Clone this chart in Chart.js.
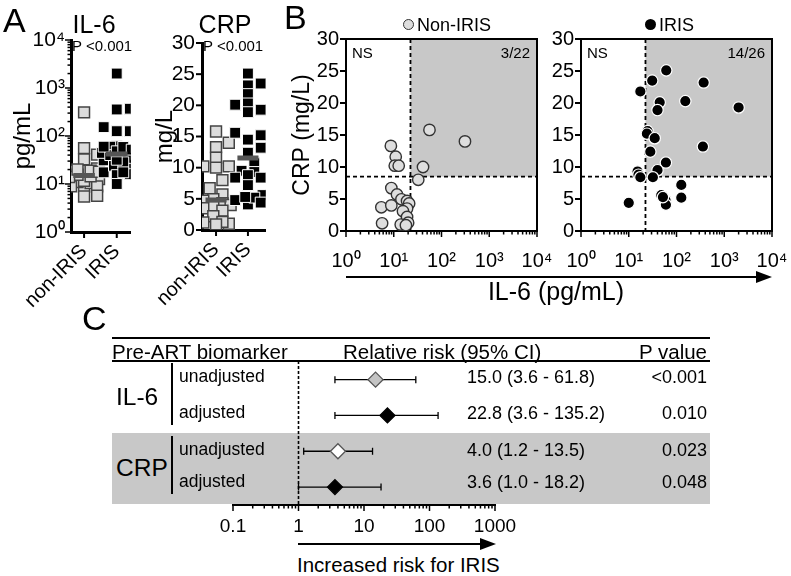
<!DOCTYPE html>
<html>
<head>
<meta charset="utf-8">
<script src="https://cdn.jsdelivr.net/npm/chart.js@4.4.1/dist/chart.umd.min.js"></script>
<style>
body { margin: 0; width: 791px; height: 576px; position: relative; background: #fff; overflow: hidden;
       font-family: 'Liberation Sans', Arial, Helvetica, sans-serif; color: #000; }
canvas { position: absolute; z-index: 2; }
.t { position: absolute; white-space: nowrap; line-height: 1; z-index: 3; }
.box { position: absolute; z-index: 1; }
</style>
</head>
<body>
<canvas id="aIL6" width="140" height="310" style="left:0;top:0"></canvas>
<canvas id="aCRP" width="157" height="310" style="left:118px;top:0"></canvas>
<canvas id="bNon" width="290" height="290" style="left:276px;top:0"></canvas>
<canvas id="bIris" width="251" height="290" style="left:540px;top:0"></canvas>
<canvas id="cForest" width="320" height="200" style="left:200px;top:340px"></canvas>
<script>
// ---- data ----
const groups = ['non-IRIS', 'IRIS'];
// one value per patient; same patients in panel A and B
const nonIrisIL6 = [56, 8.7, 11, 10.5, 12.7, 41, 32.6, 8.9, 11.7, 14.5, 19, 21, 5.5, 8.9, 19, 15.6, 19, 5.7, 14, 20, 18, 310];
const nonIrisCRP = [15.8, 13.3, 11.6, 10.2, 10.2, 10.0, 8.0, 6.7, 5.7, 4.95, 4.7, 4.3, 3.7, 4.0, 3.5, 3.1, 2.2, 1.2, 1.0, 1.3, 0.9, 14.0];
const irisIL6 = [61, 31, 370, 17.5, 44.5, 153, 2000, 40, 24.8, 24, 35, 357, 28.3, 60, 40, 15.3, 16, 17.5, 32, 126, 48, 59, 60, 126, 10, 52];
const irisCRP = [25.1, 23.5, 23.2, 21.8, 20.1, 20.3, 19.3, 18.9, 15.6, 15.2, 14.5, 13.2, 12.4, 10.7, 9.5, 9.3, 8.8, 8.4, 8.4, 7.2, 5.6, 4.8, 4.1, 5.2, 4.4, 5.3];
const il6Cutoff = 22.4;   // pg/mL
const crpCutoff = 8.5;    // mg/L
const pA = ['P <0.001', 'P <0.001'];

// panel C
const rrBiomarker = ['IL-6', 'IL-6', 'CRP', 'CRP'];
const rrModel = ['unadjusted', 'adjusted', 'unadjusted', 'adjusted'];
const rrEst = [15.0, 22.8, 4.0, 3.6];
const rrLo = [3.6, 3.6, 1.2, 1.0];
const rrHi = [61.8, 135.2, 13.5, 18.2];
const rrP = ['<0.001', '0.010', '0.023', '0.048'];
const rrTicks = [0.1, 1, 10, 100, 1000];

// ---- styles ----
const FONT = "'Liberation Sans', Arial, Helvetica, sans-serif";
Chart.defaults.font.family = FONT;
Chart.defaults.color = '#000';
Chart.defaults.animation = false;
Chart.defaults.plugins.legend.display = false;
Chart.defaults.plugins.tooltip.enabled = false;
const rrFill = ['#c4c4c4', '#000', '#fff', '#000'];
const rrEdge = ['#555', '#000', '#555', '#000'];

const sup = { '0': '\u2070', '1': '\u00b9', '2': '\u00b2', '3': '\u00b3', '4': '\u2074' };
const isPow10 = v => Math.abs(Math.log10(v) - Math.round(Math.log10(v))) < 1e-6;
const pow10Label = v => isPow10(v) ? '10' + sup[String(Math.round(Math.log10(v)))] : '';
function logTicks(lo, hi) {
  const out = [];
  for (let e = lo; e < hi; e++) for (let m = 1; m < 10; m++) out.push({ value: m * Math.pow(10, e) });
  out.push({ value: Math.pow(10, hi) });
  return out;
}
const median = a => { const s = [...a].sort((x, y) => x - y); const n = s.length; return n % 2 ? s[(n - 1) / 2] : (s[n / 2 - 1] + s[n / 2]) / 2; };

// spread points sideways so overlapping squares stay visible
function swarm(values, toPx) {
  const order = values.map((v, i) => i).sort((a, b) => values[a] - values[b]);
  const placed = [], offs = [];
  const cand = [0, 7, -7, 14, -14, 3, -3, 10, -10, 16, -16];
  order.forEach(i => {
    const py = toPx(values[i]);
    let best = 0, bestD = -1;
    for (const c of cand) {
      let d = Infinity;
      placed.forEach(p => { d = Math.min(d, Math.max(Math.abs(p.x - c), Math.abs(p.y - py))); });
      if (d >= 8.5) { best = c; break; }
      if (d > bestD) { bestD = d; best = c; }
    }
    placed.push({ x: best, y: py });
    offs[i] = best;
  });
  return offs;
}

// tick marks drawn by hand so minor log ticks can be shorter
const tickMarks = {
  id: 'tickMarks',
  afterDraw(chart) {
    const ctx = chart.ctx;
    Object.values(chart.scales).forEach(s => {
      const o = s.options.marks;
      if (!o || !s.options.display) return;
      ctx.save();
      ctx.strokeStyle = '#000';
      ctx.lineWidth = o.width;
      s.ticks.forEach(t => {
        const len = (!o.log || isPow10(t.value)) ? o.major : o.minor;
        const p = s.getPixelForValue(t.value);
        ctx.beginPath();
        if (s.axis === 'y') { ctx.moveTo(s.right, p); ctx.lineTo(s.right - len, p); }
        else { ctx.moveTo(p, s.top); ctx.lineTo(p, s.top + len); }
        ctx.stroke();
      });
      ctx.restore();
    });
  }
};

// shaded quadrant, cut-off lines, frame and labels for panel B
const quadrant = {
  id: 'quadrant',
  beforeDatasetsDraw(chart, args, opts) {
    const { ctx, chartArea: a, scales: { x, y } } = chart;
    const px = x.getPixelForValue(opts.x), py = y.getPixelForValue(opts.y);
    ctx.save();
    ctx.fillStyle = '#c8c8c8';
    ctx.fillRect(px, a.top, a.right - px, py - a.top);
    ctx.strokeStyle = '#000';
    ctx.lineWidth = 1.8;
    ctx.setLineDash([4, 3]);
    ctx.beginPath();
    ctx.moveTo(px, a.top); ctx.lineTo(px, a.bottom);
    ctx.moveTo(a.left, py); ctx.lineTo(a.right, py);
    ctx.stroke();
    ctx.setLineDash([]);
    ctx.lineWidth = 2;
    ctx.strokeRect(a.left, a.top, a.right - a.left, a.bottom - a.top);
    ctx.fillStyle = '#000';
    ctx.font = '15px ' + FONT;
    ctx.textBaseline = 'middle';
    ctx.textAlign = 'left';
    ctx.fillText('NS', a.left + 6, a.top + 15);
    ctx.textAlign = 'right';
    ctx.fillText(opts.count, a.right - 7, a.top + 15);
    ctx.restore();
  }
};

// dashed no-effect line for panel C
const refLine = {
  id: 'refLine',
  beforeDatasetsDraw(chart, args, opts) {
    const { ctx, chartArea: a, scales: { x } } = chart;
    const px = x.getPixelForValue(opts.value);
    ctx.save();
    ctx.strokeStyle = '#000';
    ctx.lineWidth = 1.6;
    ctx.setLineDash([3, 2]);
    ctx.beginPath();
    ctx.moveTo(px, a.top); ctx.lineTo(px, a.bottom);
    ctx.stroke();
    ctx.restore();
  }
};

const fixW = w => s => { s.width = w; s.paddingTop = 0; s.paddingBottom = 0; };
const fixH = h => s => { s.height = h; s.paddingLeft = 0; s.paddingRight = 0; };

// ---- panel A ----
function columnChart(id, cfg) {
  const pts = (vals, cat) => {
    const offs = swarm(vals, cfg.toPx);
    return vals.map((v, i) => ({ x: cat + offs[i] / 35, y: v }));
  };
  const bar = (vals, cat) => ({
    type: 'line', data: [{ x: cat - 0.33, y: median(vals) }, { x: cat + 0.33, y: median(vals) }],
    borderColor: '#555', borderWidth: 5, pointRadius: 0, order: 0
  });
  return new Chart(document.getElementById(id), {
    type: 'scatter',
    data: {
      datasets: [
        bar(cfg.non, 1), bar(cfg.iris, 2),
        { data: pts(cfg.iris, 2), pointStyle: 'rect', pointRadius: 7.7, backgroundColor: '#000', borderColor: '#fff', borderWidth: 1, order: 1 },
        { data: pts(cfg.non, 1), pointStyle: 'rect', pointRadius: 7.7, backgroundColor: '#dcdcdc', borderColor: '#444', borderWidth: 1.5, order: 2 }
      ]
    },
    options: {
      responsive: false,
      layout: { padding: cfg.pad },
      scales: {
        x: {
          type: 'linear', min: cfg.xmin, max: cfg.xmax,
          afterBuildTicks: s => { s.ticks = [{ value: 1 }, { value: 2 }]; },
          afterFit: fixH(cfg.xh),
          ticks: { callback: v => groups[v - 1], minRotation: 45, maxRotation: 45, font: { size: 20 }, padding: 2 },
          grid: { display: false, tickLength: 6 },
          border: { color: '#000', width: 3 },
          marks: { width: 2, major: 6 }
        },
        y: cfg.y
      }
    },
    plugins: [tickMarks]
  });
}

columnChart('aIL6', {
  non: nonIrisIL6, iris: irisIL6, toPx: v => Math.log10(v) * 48,
  xmin: 0.6, xmax: 2.43, xh: 78, pad: { top: 40, right: 5, left: 0, bottom: 0 },
  y: {
    type: 'logarithmic', min: 1, max: 10000,
    afterBuildTicks: s => { s.ticks = logTicks(0, 4); },
    afterFit: fixW(71),
    ticks: { callback: pow10Label, autoSkip: false, font: { size: 21 }, padding: 1 },
    grid: { display: false, tickLength: 5 },
    border: { color: '#000', width: 3 },
    title: { display: true, text: 'pg/mL', font: { size: 24 }, padding: { top: 9, bottom: 0 } },
    marks: { width: 1.5, major: 6, minor: 3.5, log: true }
  }
});

columnChart('aCRP', {
  non: nonIrisCRP, iris: irisCRP, toPx: v => v * 6.22,
  xmin: 0.56, xmax: 2.56, xh: 80, pad: { top: 43, right: 5, left: 0, bottom: 0 },
  y: {
    type: 'linear', min: 0, max: 30,
    ticks: { stepSize: 5, font: { size: 21 }, padding: 2 },
    afterFit: fixW(84),
    grid: { display: false, tickLength: 5 },
    border: { color: '#000', width: 3 },
    title: { display: true, text: 'mg/L', font: { size: 24 }, padding: { top: 33, bottom: 0 } },
    marks: { width: 2, major: 6 }
  }
});

// ---- panel B ----
function scatterChart(id, cfg) {
  const pts = cfg.il6.map((v, i) => ({ x: v, y: cfg.crp[i] }));
  const hits = pts.filter(p => p.x > il6Cutoff && p.y > crpCutoff).length;
  return new Chart(document.getElementById(id), {
    type: 'scatter',
    data: { datasets: [{ label: cfg.label, data: pts, pointRadius: 5.7, backgroundColor: cfg.fill, borderColor: cfg.edge, borderWidth: cfg.bw }] },
    options: {
      responsive: false,
      layout: { padding: cfg.pad },
      plugins: { quadrant: { x: il6Cutoff, y: crpCutoff, count: hits + '/' + pts.length } },
      scales: {
        x: {
          type: 'logarithmic', min: 1, max: 10000,
          afterBuildTicks: s => { s.ticks = logTicks(0, 4); },
          afterFit: fixH(40),
          ticks: { callback: pow10Label, autoSkip: false, maxRotation: 0, font: { size: 20 }, padding: 12 },
          grid: { display: false, tickLength: 6 },
          border: { color: '#000', width: 2 },
          marks: { width: 1.5, major: 6, minor: 3.5, log: true }
        },
        y: {
          min: 0, max: 30,
          ticks: { stepSize: 5, font: { size: 20 }, padding: 2 },
          afterFit: fixW(cfg.yw),
          grid: { display: false, tickLength: 5 },
          border: { color: '#000', width: 2 },
          title: { display: !!cfg.title, text: cfg.title, font: { size: 23 }, padding: { top: 13, bottom: 0 } },
          marks: { width: 2, major: 6 }
        }
      }
    },
    plugins: [quadrant, tickMarks]
  });
}

scatterChart('bNon', {
  label: 'Non-IRIS', il6: nonIrisIL6, crp: nonIrisCRP, fill: '#dedede', edge: '#333', bw: 1.4,
  yw: 70, title: 'CRP (mg/L)', pad: { top: 39, right: 29, left: 0, bottom: 19 }
});
scatterChart('bIris', {
  label: 'IRIS', il6: irisIL6, crp: irisCRP, fill: '#000', edge: '#fff', bw: 1.2,
  yw: 41, title: '', pad: { top: 39, right: 19, left: 0, bottom: 19 }
});

// ---- panel C ----
new Chart(document.getElementById('cForest'), {
  type: 'scatter',
  data: {
    datasets: [
      { data: rrEst.map((e, i) => ({ x: e, y: i + 1 })), pointStyle: 'rectRot', pointRadius: 7.5,
        backgroundColor: rrFill, borderColor: rrEdge, borderWidth: 1.3, order: 0 },
      ...rrEst.map((e, i) => ({
        data: [{ x: rrLo[i], y: i + 1 }, { x: rrHi[i], y: i + 1 }], showLine: true,
        borderColor: '#000', borderWidth: 1.3, pointStyle: 'line', pointRotation: 90,
        pointRadius: 3.5, pointBorderWidth: 1.3, pointBorderColor: '#000', order: 1
      }))
    ]
  },
  options: {
    responsive: false,
    layout: { padding: { left: 33, right: 25, top: 21, bottom: 5 } },
    plugins: { refLine: { value: 1 } },
    scales: {
      x: {
        type: 'logarithmic', min: 0.1, max: 1000,
        afterBuildTicks: s => { s.ticks = logTicks(-1, 3); },
        afterFit: fixH(30),
        ticks: { callback: v => rrTicks.some(t => Math.abs(t - v) < 1e-9) ? String(v) : '', autoSkip: false, maxRotation: 0, font: { size: 19 }, padding: 4 },
        grid: { display: false, tickLength: 6 },
        border: { color: '#000', width: 2 },
        marks: { width: 1.5, major: 6, minor: 3.5, log: true }
      },
      y: { display: false, min: 0.48, max: 4.5, reverse: true }
    }
  },
  plugins: [refLine, tickMarks]
});

// ---- text, rules and arrows around the charts ----
function label(text, x, y, size, align) {
  const d = document.createElement('div');
  d.className = 't';
  d.textContent = text;
  d.style.fontSize = size + 'px';
  d.style.top = (y - 0.49 * size) + 'px';
  if (align === 'r') d.style.right = (791 - x) + 'px';
  else d.style.left = x + 'px';
  if (align === 'c') d.style.transform = 'translateX(-50%)';
  document.body.appendChild(d);
  return d;
}
function box(x, y, w, h, color, extra) {
  const d = document.createElement('div');
  d.className = 'box';
  Object.assign(d.style, { left: x + 'px', top: y + 'px', width: w + 'px', height: h + 'px', background: color }, extra || {});
  document.body.appendChild(d);
  return d;
}
function arrow(x1, x2, y) {
  box(x1, y - 1.25, x2 - x1 - 10, 2.5, '#000');
  box(x2 - 16, y - 6, 0, 0, 'transparent', { borderLeft: '16px solid #000', borderTop: '6px solid transparent', borderBottom: '6px solid transparent', height: '0', width: '0' });
}

// panel letters and titles
label('A', 3, 20, 34);
label('B', 284, 17, 34);
label('C', 82, 318, 34);
label('IL-6', 94, 24, 25, 'c');
label('CRP', 225, 24, 25, 'c');
label(pA[0], 72, 45, 15);
label(pA[1], 203, 45, 15);

// panel B legends, axis title, arrow
box(403, 19, 9, 9, '#dedede', { border: '1.4px solid #333', borderRadius: '50%' });
label('Non-IRIS', 417, 25, 18);
box(645, 19, 11, 11, '#000', { borderRadius: '50%' });
label('IRIS', 659, 25, 18);
arrow(346, 772, 277);
label('IL-6 (pg/mL)', 556, 291, 25, 'c');

// panel C table
box(112, 336.5, 598, 2.2, '#000');
box(112, 360, 598, 2.2, '#000');
box(112, 433, 598, 71, '#c8c8c8');
label('Pre-ART biomarker', 112, 352, 20.5);
label('Relative risk (95% CI)', 343, 352, 20.5);
label('P value', 707, 352, 20.5, 'r');
const rowY = [377, 413, 450, 482];
['IL-6', 'CRP'].forEach(b => {
  const rows = rrBiomarker.map((x, i) => i).filter(i => rrBiomarker[i] === b);
  const yc = (rowY[rows[0]] + rowY[rows[rows.length - 1]]) / 2 + 2;
  label(b, 116, yc, 24.5);
  box(170.5, rowY[rows[0]] - 14, 2.5, rowY[rows[rows.length - 1]] - rowY[rows[0]] + 26, '#000');
});
rrModel.forEach((m, i) => {
  label(m, 179, rowY[i], 17.5);
  label(rrEst[i].toFixed(1) + ' (' + rrLo[i].toFixed(1) + ' - ' + rrHi[i].toFixed(1) + ')', 467, rowY[i], 18);
  label(rrP[i], 707, rowY[i], 18, 'r');
});
arrow(298, 496, 544);
label('Increased risk for IRIS', 297, 565, 20.5);
</script>
</body>
</html>
